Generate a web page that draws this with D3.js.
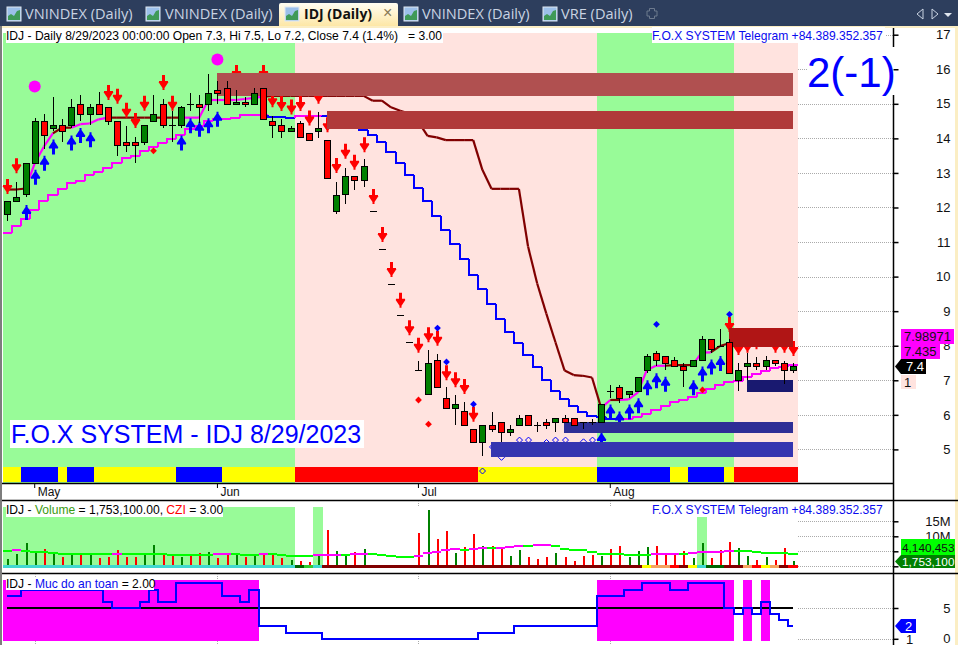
<!DOCTYPE html>
<html><head><meta charset="utf-8">
<script src="https://cdn.jsdelivr.net/npm/d3@7/dist/d3.min.js"></script>
<style>html,body{margin:0;padding:0;background:#fff}svg{display:block}text{font-family:"Liberation Sans",Arial,sans-serif}</style>
</head><body><svg id="c" width="958" height="645"></svg>
<script>
// ---------- data ----------
const opens=[11.8,12.2,12.4,13.3,14.5,14.3,14.4,14.4,15.0,14.7,15.0,14.9,14.5,13.9,13.9,13.9,14.5,15.0,14.4,14.4,15.0,15.0,15.0,15.4,15.45,15.0,15.05,15.0,15.45,14.5,14.4,14.2,14.45,14.15,14.2,13.95,11.9,12.4,12.9,12.8,11.9,10.8,9.8,8.9,8.1,7.3,6.6,7.6,6.5,6.2,6.1,5.6,5.2,5.7,5.8,5.5,5.7,6.0,5.7,5.8,5.8,5.9,5.9,5.8,5.8,5.8,6.7,6.8,6.6,6.7,7.3,7.8,7.7,7.6,7.4,7.4,7.6,8.2,8.0,8.1,7.0,7.4,7.5,7.4,7.6,7.5,7.3];
const highs=[12.2,12.75,13.3,14.6,14.7,15.2,14.55,15.15,15.25,15.0,15.35,14.9,14.5,14.35,14.05,14.4,15.25,15.15,14.8,14.95,15.3,15.25,15.85,15.65,15.65,15.4,15.2,15.45,15.45,14.65,14.55,14.35,14.5,14.15,14.75,13.95,12.75,13.15,12.9,13.4,11.9,10.8,9.8,8.9,8.1,7.55,7.87,7.75,6.8,6.57,6.37,5.6,5.7,6.08,5.8,5.7,6.0,6.0,5.8,5.87,5.9,6.0,5.9,5.8,5.87,6.3,6.86,6.86,6.7,7.1,7.76,7.86,7.7,7.66,7.5,7.6,8.28,8.2,8.48,8.2,7.5,7.8,7.66,7.7,7.6,7.55,7.5];
const lows=[11.6,12.2,12.3,13.3,13.7,14.2,13.9,14.3,14.5,14.4,14.7,14.4,13.5,13.6,13.3,13.8,14.5,14.3,13.9,14.3,14.8,14.45,14.8,15.0,15.0,15.0,14.9,15.0,14.55,14.0,14.0,14.2,14.05,13.95,14.0,12.85,11.8,12.1,12.5,12.6,11.9,10.8,9.8,8.9,8.1,7.3,6.6,6.8,6.2,5.7,5.7,5.2,4.8,5.5,5.2,5.4,5.7,5.7,5.5,5.6,5.5,5.75,5.7,5.6,5.7,5.8,6.5,6.33,6.5,6.7,7.2,7.4,7.3,7.4,6.8,7.4,7.6,7.8,8.0,7.2,6.7,7.0,7.3,7.3,7.4,6.9,7.2];
const closes=[12.2,12.3,13.3,14.5,14.1,14.4,14.2,14.9,14.7,14.9,14.7,14.5,13.8,13.8,13.8,14.4,14.7,14.4,14.4,14.9,15.0,14.9,15.3,15.3,15.0,15.05,15.0,15.3,14.55,14.4,14.2,14.3,14.05,13.95,14.3,12.85,12.35,12.9,12.8,13.2,11.9,10.8,9.8,8.9,8.1,7.3,7.5,6.8,6.2,6.3,5.7,5.2,5.7,5.6,5.5,5.6,5.9,5.7,5.7,5.7,5.9,5.8,5.7,5.8,5.8,6.3,6.7,6.5,6.7,7.1,7.7,7.6,7.5,7.4,7.3,7.6,8.2,7.9,8.0,7.2,7.3,7.5,7.4,7.6,7.5,7.3,7.4];
const lowerLine=[11.26,11.45,11.68,11.94,12.18,12.35,12.54,12.7,12.78,12.94,13.02,13.14,13.28,13.43,13.48,13.63,13.75,13.86,13.97,14.11,14.26,14.37,14.49,14.57,14.57,14.6,14.67,14.67,14.67,14.63,14.63,14.6,14.66,14.66,14.66,14.65,14.5,14.4,14.3,14.24,14.1,13.9,13.6,13.3,12.95,12.57,12.2,11.76,11.35,10.94,10.5,10.04,9.63,9.22,8.77,8.39,8.09,7.73,7.39,7.0,6.7,6.46,6.25,6.09,5.97,5.95,5.88,5.88,5.88,5.95,6.02,6.14,6.26,6.36,6.43,6.52,6.64,6.74,6.86,6.96,6.99,7.1,7.18,7.28,7.36,7.39,7.44];
const upperLine=[12.52,12.52,12.55,13.28,13.76,14.15,14.31,14.31,14.41,14.43,14.55,14.6,14.6,14.6,14.6,14.6,14.6,14.6,14.6,14.6,14.6,14.6,15.11,15.11,15.11,15.11,15.14,15.17,15.21,15.23,15.23,15.23,15.23,15.23,15.23,15.23,15.23,15.23,15.23,15.23,15.09,15.09,14.9,14.8,14.72,14.48,14.07,14.03,13.95,13.95,13.95,13.95,13.09,12.54,12.54,12.54,12.54,10.87,9.8,8.93,8.1,7.28,7.15,7.13,7.08,6.2,6.43,6.43,6.45,6.64,7.3,7.42,7.42,7.44,7.44,7.44,7.8,7.81,7.99,8.07];
const volumes=[2.4,4.1,7.7,5,5.7,4.1,3.1,3.7,4.1,3.7,2.7,3.1,5.4,3.1,3.1,3.9,7.1,4.1,3.7,3.1,3.7,4.3,4.8,2.7,4.1,4.3,3.2,3.6,4.3,3.7,2.7,2.1,1.8,1.4,3.3,12.1,5.1,4.1,4.7,5.8,0.4,0.2,0.2,0.2,0.3,11.1,18.8,9,11.8,4.3,6.4,10.8,6.8,6.8,5.8,3.4,5.4,3.1,2.4,3.1,4.4,3.1,1.8,3.4,3.8,3.4,5.8,6.8,3.1,5.1,6.4,6.8,3.8,3.8,5.1,2.8,7.8,2.8,5.4,8.1,6.1,3.4,2.1,3.1,2.1,6.1,1.75];
const volumeMA=[5.2,5.3,5.0,4.9,4.7,4.6,4.2,4.2,4.2,4.1,4.1,4.1,4.2,4.2,4.2,4.2,4.1,4.0,3.9,3.9,3.9,3.9,3.9,4.0,4.1,4.1,3.9,3.9,4.0,4.0,3.8,3.6,3.6,3.6,3.7,3.8,3.9,3.9,4.0,4.1,4.0,3.8,3.6,3.2,3.2,3.3,4.4,4.9,5.3,5.8,5.6,5.7,6.1,6.1,6.2,6.6,6.8,6.8,7.0,7.2,6.8,5.9,5.6,5.3,4.9,4.2,4.2,4.1,3.9,3.9,3.9,4.0,4.1,4.2,4.2,4.4,4.7,4.8,4.9,5.2,5.2,5.0,4.9,4.6,4.6,4.3,4.14];
const safety=[7,7,8,8,8,8,8,8,8,8,8,6,5,5,5,6,8,6,6,9,9,9,9,9,7,7,6,8,2,2,2,1,1,1,1,0,0,0,0,0,0,0,0,0,0,0,0,0,0,0,0,0,1,1,1,1,2,2,2,2,2,2,2,2,2,7,7,7,8,8,9,9,9,8,8,9,9,9,9,5,4,5,4,6,4,3,2];

const redArrowIdx=[0,1,11,12,13,14,15,17,18,25,28,29,30,31,32,33,34,35,36,37,38,39,40,41,42,43,44,45,46,47,48,49,50,51,79,80,81,82,84,85,86];
const redArrowTip=[12.39,12.99,15.11,15.0,14.6,14.3,14.8,15.4,14.8,15.69,15.69,14.9,14.79,14.69,14.79,14.37,15.0,14.18,13.0,13.41,13.09,13.6,12.1,11.0,9.99,9.1,8.3,7.8,8.1,8.0,7.0,6.8,6.6,5.8,8.4,7.73,7.8,7.9,7.8,7.8,7.7];
const blueArrowIdx=[2,3,4,5,7,8,9,19,20,21,22,23,65,66,67,68,69,70,71,72,75,76,77,78];
const blueArrowTip=[12.07,13.09,13.5,13.97,14.08,14.3,14.18,14.08,14.58,14.48,14.58,14.77,5.5,6.3,6.1,6.3,6.48,7.0,7.2,7.1,7.0,7.4,7.6,7.7];
const bigDotIdx=[3,23], bigDotVal=[15.5,16.28];
const redDiamondIdx=[16,45,46,76], redDiamondVal=[13.64,6.43,5.73,6.72];
const blueDiamondIdx=[47,48,51,71,79], blueDiamondVal=[8.51,7.53,6.31,8.62,8.91];
const hollowIdx=[53,54,56,57,59,60,61,63,64], hollowVal=[5.07,4.77,5.27,5.27,5.2,5.27,5.27,5.22,5.27];
const zoneStart=[23,35,79,81,61,53];
const zoneTop=[15.88,14.78,8.51,7.0,5.79,5.21];
const zoneBottom=[15.24,14.26,7.96,6.66,5.47,4.79];
const zoneFill=["#b05050","#b03a3a","#b01515","#191970","#2e2e96","#3535b0"];

const trendRuns=[["G",32],["P",33],["G",15],["P",7]];
const bandRuns=[["Y",2],["B",4],["Y",1],["B",3],["Y",9],["B",5],["Y",8],["R",20],["Y",13],["B",8],["Y",2],["B",4],["Y",1],["R",7]];
const safeRuns=[["M",28],["N",37],["M",15],["N",1],["M",1],["N",1],["M",1],["N",3]];
const volBgRuns=[["G",32],["N",2],["G",1],["N",41],["G",1],["N",10]];
const stripRuns=[["T",32],["DG",1],["LG",1],["T",1],["MR",35],["Y",1],["S",2],["R",1],["MR",1],["Y",1],["T",1],["DG",2],["MR",2],["S",1],["R",1],["Y",1],["S",1],["MR",1],["R",1]];
const lowerRuns=[["M",29],["B",3],["M",3],["B",33],["M",19]];
const upperRuns=[["D",3],["M",3],["D",2],["M",4],["D",8],["M",9],["D",37],["M",1],["D",1],["M",5],["D",3],["M",2],["D",2]];

const priceTicks=[5,6,7,8,9,10,11,12,13,14,15,16,17];
const monthIdx=[3,23,45,66], monthNames=["May","Jun","Jul","Aug"];
const volTicks=[0,5,10,15], volTickLabels=["","","10M","15M"];
const safeTicks=[0,5];
const tabNames=["VNINDEX (Daily)","VNINDEX (Daily)","IDJ (Daily)","VNINDEX (Daily)","VRE (Daily)"];

// ---------- helpers ----------
const pal={G:"#98fb98",P:"#ffe3df",Y:"#ffff00",B:"#0000ff",R:"#ff0000",M:"#ff00ff",D:"#800000",T:"#40d8d0",DG:"#006400",LG:"#32cd32",MR:"#800000",S:"#f4a460"};
const expand=r=>d3.merge(r.map(([k,n])=>d3.range(n).map(()=>k)));
const svg=d3.select("#c");
const n=closes.length;
const x=d3.scaleLinear().domain([0,n-1]).range([7.3,793]);
const y=d3.scaleLinear().domain([5,17]).range([449.4,34.7]);
const yv=d3.scaleLinear().domain([0,15]).range([566.3,521.3]);
const ys=d3.scaleLinear().domain([0,5]).range([638.8,608]);
const cx=i=>Math.round(x(i));
const L=d3.line().x(d=>x(d[0])).y(d=>d[1]);
const FONT='"Liberation Sans",Arial,sans-serif';
const runsRects=(g,runs,y0,y1,colorOf)=>{
  g.selectAll(null).data(expand(runs)).join("rect")
   .attr("x",(d,i)=>x(i-.5)).attr("width",(d,i)=>x(i+.5)-x(i-.5)+.3)
   .attr("y",y0).attr("height",y1-y0).attr("fill",colorOf).attr("shape-rendering","crispEdges");
};

// ---------- window chrome ----------
svg.append("rect").attr("width",958).attr("height",645).attr("fill","#fff");
svg.append("rect").attr("width",958).attr("height",26).attr("fill","#2d3e5d");
svg.append("rect").attr("y",26).attr("width",958).attr("height",2).attr("fill","#fbeec4");
svg.append("rect").attr("y",26).attr("width",2).attr("height",619).attr("fill","#7d7d7d");
svg.append("rect").attr("x",955).attr("y",26).attr("width",3).attr("height",619).attr("fill","#fbeec4");
const defs=svg.append("defs");
const gr=defs.append("linearGradient").attr("id","tabg").attr("x1",0).attr("y1",0).attr("x2",0).attr("y2",1);
gr.append("stop").attr("offset",0).attr("stop-color","#fffdf2");
gr.append("stop").attr("offset",1).attr("stop-color","#fde7a6");
svg.append("path").attr("d","M279 26V5Q279 3 281 3H396Q398 3 398 5V26Z").attr("fill","url(#tabg)");
const iconX=[7,146,285,404,543], textX=[25,165,304,422,561];
tabNames.forEach((t,i)=>{
  const g=svg.append("g").attr("transform",`translate(${iconX[i]},7)`);
  g.append("rect").attr("width",14).attr("height",14).attr("fill","#9cc0ea").attr("stroke","#dfe8f2");
  g.append("path").attr("d","M1 13V9L4 7L7 9L10 4L13 3V13Z").attr("fill","#3f9a58");
  svg.append("text").attr("x",textX[i]).attr("y",19).text(t)
    .style("font-family",'"Open Sans"').style("font-size",i==2?"14px":"14.6px")
    .style("font-weight",i==2?700:400).attr("fill",i==2?"#111":"#c9d3e2");
});
svg.append("text").attr("x",383).attr("y",18).text("×").style("font-size","16px").attr("fill","#8a7a55");
svg.append("path").attr("d","M649.5 8.5h5v2.5h2.5v5h-2.5v2.5h-5v-2.5h-2.5v-5h2.5z").attr("fill","none").attr("stroke","#6d7a8e");
svg.append("path").attr("d","M923 9L917 14L923 19Z").attr("fill","none").attr("stroke","#c9d3e2");
svg.append("path").attr("d","M932 9L938 14L932 19Z").attr("fill","none").attr("stroke","#c9d3e2");
svg.append("path").attr("d","M944 13H952L948 17Z").attr("fill","#dfe6ef");

// ---------- main pane ----------
const main=svg.append("g");
runsRects(main,trendRuns,33,483,d=>pal[d]);
const grid=(scale,ticks)=>svg.append("g").selectAll("line").data(ticks).join("line")
  .attr("x1",798).attr("x2",893).attr("y1",d=>Math.round(scale(d))+.5).attr("y2",d=>Math.round(scale(d))+.5)
  .attr("stroke","#aaa").attr("stroke-dasharray","1 1");
grid(y,priceTicks); grid(yv,volTicks); grid(ys,safeTicks);

// upper and lower trend lines
const lowerC=expand(lowerRuns), upperC=expand(upperRuns);
const lineG=svg.append("g").attr("fill","none");
lineG.selectAll(null).data(lowerLine).join("path").attr("stroke-width",2).attr("shape-rendering","crispEdges")
  .attr("d",(v,i)=>{const a=[];if(i>0)a.push([i-.5,y(lowerLine[i-1])]);a.push([i-.5,y(v)]);a.push([i+.5,y(v)]);return L(a)})
  .attr("stroke",(v,i)=>pal[lowerC[i]]);
lineG.selectAll(null).data(upperLine.slice(1)).join("path").attr("stroke-width",2.2)
  .attr("d",(v,i)=>L([[i,y(upperLine[i])],[i+1,y(v)]]))
  .attr("stroke",(v,i)=>pal[upperC[i+1]]);

// arrows and dots
const arrowDown="M-1.5 -15H1.5V-9H4.5V-8H5L1 -2V0H-1V-2L-5 -8H-4.5V-9H-1.5Z";
const arrowUp="M-1.5 15H1.5V9H4.5V8H5L1 2V0H-1V2L-5 8H-4.5V9H-1.5Z";
const mk=svg.append("g");
mk.selectAll(null).data(redArrowIdx).join("path").attr("d",arrowDown).attr("fill","#ff0000")
  .attr("transform",(d,i)=>`translate(${cx(d)+.5},${y(redArrowTip[i])})`);
mk.selectAll(null).data(blueArrowIdx).join("path").attr("d",arrowUp).attr("fill","#0000ff")
  .attr("transform",(d,i)=>`translate(${cx(d)+.5},${y(blueArrowTip[i])})`);
const diamond=r=>`M0 ${-r}L${r} 0L0 ${r}L${-r} 0Z`;
mk.selectAll(null).data(redDiamondIdx).join("path").attr("d",diamond(3.4)).attr("fill","#ff0000")
  .attr("transform",(d,i)=>`translate(${cx(d)+.5},${y(redDiamondVal[i])})`);
mk.selectAll(null).data(blueDiamondIdx).join("path").attr("d",diamond(3.4)).attr("fill","#0000ff")
  .attr("transform",(d,i)=>`translate(${cx(d)+.5},${y(blueDiamondVal[i])})`);
mk.selectAll(null).data(hollowIdx).join("path").attr("d",diamond(3)).attr("fill","none").attr("stroke","#0000ff")
  .attr("transform",(d,i)=>`translate(${cx(d)+.5},${y(hollowVal[i])})`);
mk.selectAll(null).data(bigDotIdx).join("circle").attr("r",6).attr("fill","#ff00ff")
  .attr("cx",d=>x(d)).attr("cy",(d,i)=>y(bigDotVal[i]));

// zones
svg.append("g").selectAll("rect").data(zoneStart).join("rect")
  .attr("x",d=>x(d)-.4).attr("width",d=>x(n-1)-x(d)+.4)
  .attr("y",(d,i)=>y(zoneTop[i])).attr("height",(d,i)=>y(zoneBottom[i])-y(zoneTop[i]))
  .attr("fill",(d,i)=>zoneFill[i]).attr("shape-rendering","crispEdges");

// state band
runsRects(svg.append("g"),bandRuns,467,482,d=>pal[d]);
svg.append("path").attr("d",diamond(3)).attr("fill","none").attr("stroke","#0000ff")
  .attr("transform",`translate(${cx(52)+.5},471)`);

// candles
const cg=svg.append("g").attr("shape-rendering","crispEdges");
closes.forEach((c,i)=>{
  const o=opens[i],X=cx(i)+.5;
  cg.append("line").attr("x1",X).attr("x2",X).attr("y1",Math.round(y(highs[i]))).attr("y2",Math.round(y(lows[i]))).attr("stroke","#000");
  if(o===c){
    const Y=Math.round(y(c))+.5;
    cg.append("line").attr("x1",X-3.5).attr("x2",X+3.5).attr("y1",Y).attr("y2",Y).attr("stroke","#000");
  }else{
    const t=Math.round(y(Math.max(o,c))),b=Math.round(y(Math.min(o,c)));
    cg.append("rect").attr("x",X-3).attr("width",6).attr("y",t+.5).attr("height",Math.max(b-t,1))
      .attr("fill",c>o?"#008000":"#ff0000").attr("stroke","#000");
  }
});

// labels over main pane
const label=(bx,by,bw,bh,parts,tx,ty,size)=>{
  svg.append("rect").attr("x",bx).attr("y",by).attr("width",bw).attr("height",bh).attr("fill","#fff");
  const t=svg.append("text").attr("x",tx).attr("y",ty).style("font-size",(size||12.1)+"px");
  parts.forEach(([s,col])=>t.append("tspan").text(s).attr("fill",col).attr("xml:space","preserve"));
};
label(6,28,437,15,[["IDJ - Daily 8/29/2023 00:00:00 Open 7.3, Hi 7.5, Lo 7.2, Close 7.4 (1.4%)   = 3.00","#000"]],6,40);
label(652,27,233,16,[["F.O.X SYSTEM Telegram +84.389.352.357","#0a0aee"]],652,40);
label(10,420,354,28,[["F.O.X SYSTEM - IDJ 8/29/2023","#0000ff"]],11,443,25);

// price axis
svg.append("rect").attr("x",807).attr("y",47).attr("width",91).attr("height",48).attr("fill","#fff");
svg.append("text").attr("x",807).attr("y",87).text("2(-1)").style("font-size","42px").attr("fill","#0000ff");
const axisLine=(y1,y2)=>svg.append("line").attr("x1",893.5).attr("x2",893.5).attr("y1",y1).attr("y2",y2).attr("stroke","#000").attr("stroke-width",1.5);
axisLine(28,47);axisLine(95,645);
const rightAxis=(scale,ticks,fmt)=>{
  const g=svg.append("g").attr("transform","translate(893.5,0)")
   .call(d3.axisRight(scale).tickValues(ticks).tickSize(5).tickPadding(43).tickFormat(fmt));
  g.select(".domain").remove();
  g.selectAll("line").attr("stroke","#000").attr("stroke-width",1.5);
  g.selectAll("text").attr("fill","#111").style("font-size","13px").style("font-family",FONT).attr("text-anchor","end").attr("x",57);
};
rightAxis(y,priceTicks,d3.format("d"));
rightAxis(yv,volTicks,(d,i)=>volTickLabels[i]);
rightAxis(ys,safeTicks,d3.format("d"));
svg.append("text").attr("x",906).attr("y",644).text("1").style("font-size","13px").attr("fill","#111");

// separators
[[483.5,893],[500.5,958],[573.5,958]].forEach(([Y,x2])=>svg.append("line").attr("x1",2).attr("x2",x2).attr("y1",Y).attr("y2",Y).attr("stroke","#000").attr("stroke-width",1.5));
// month axis
svg.append("g").selectAll("line").data(monthIdx).join("line").attr("x1",d=>x(d)).attr("x2",d=>x(d)).attr("y1",483).attr("y2",488).attr("stroke","#000");
svg.append("g").selectAll("text").data(monthIdx).join("text").attr("x",d=>x(d)+3).attr("y",496).text((d,i)=>monthNames[i]).style("font-size","12px").attr("fill","#111");
[[501,507],[574,580],[641,645]].forEach(([a,b])=>svg.append("g").selectAll("line").data(monthIdx).join("line")
  .attr("x1",d=>Math.round(x(d))+.5).attr("x2",d=>Math.round(x(d))+.5).attr("y1",a).attr("y2",b).attr("stroke","#aaa").attr("stroke-dasharray","1 1"));

// ---------- volume pane ----------
runsRects(svg.append("g"),volBgRuns,507,566,d=>d==="N"?"none":pal[d]);
const vb=svg.append("g").attr("shape-rendering","crispEdges");
vb.selectAll("rect").data(volumes).join("rect")
  .attr("x",(d,i)=>cx(i)).attr("width",2).attr("y",d=>yv(d)).attr("height",d=>yv(0)-yv(d))
  .attr("fill",(d,i)=>closes[i]>opens[i]?"#008000":"#ff0000");
runsRects(svg.append("g"),stripRuns,565,568,d=>pal[d]);
svg.append("g").attr("fill","none").attr("stroke-width",2).attr("shape-rendering","crispEdges").selectAll("path").data(volumeMA).join("path")
  .attr("d",(v,i)=>L([[i-.5,yv(v)],[i+.5,yv(v)]]))
  .attr("stroke",(v,i)=>i>0&&v>volumeMA[i-1]?"#ff00ff":"#00ff00");
label(6,503,217,14,[["IDJ - ","#000"],["Volume","#3a9a10"],[" = 1,753,100.00, ","#000"],["CZI","#ff0000"],[" = 3.00","#000"]],6,514);
label(652,503,232,14,[["F.O.X SYSTEM Telegram +84.389.352.357","#0a0aee"]],652,514);

// ---------- safety pane ----------
runsRects(svg.append("g"),safeRuns,580,641,d=>d==="N"?"none":pal[d]);
svg.append("line").attr("x1",7).attr("x2",793).attr("y1",ys(5)).attr("y2",ys(5)).attr("stroke","#000").attr("stroke-width",2);
svg.append("path").attr("fill","none").attr("stroke","#0000ff").attr("stroke-width",2).attr("shape-rendering","crispEdges")
  .attr("d",d3.line().curve(d3.curveStep).x((d,i)=>x(i)).y(d=>ys(d))(safety));
label(6,577,148,13,[["IDJ - ","#000"],["Muc do an toan","#0a0aee"],[" = 2.00","#000"]],6,588);

// ---------- right-hand tags ----------
const tag=(x0,y0,w,h,fill,txt,col,tx,pointed,size)=>{
  if(pointed) svg.append("path").attr("d",`M${x0} ${y0+h/2}L${x0+6} ${y0}H${x0+w}V${y0+h}H${x0+6}Z`).attr("fill",fill);
  else svg.append("rect").attr("x",x0).attr("y",y0).attr("width",w).attr("height",h).attr("fill",fill);
  svg.append("text").attr("x",tx).attr("y",y0+h/2+4.5).text(txt).style("font-size",(size||13)+"px").attr("fill",col);
};
tag(901,329,53,15,"#ff00ff","7.98971","#111",904,false);
tag(901,344,39,15,"#ff00ff","7.435","#111",904,false);
tag(895,359,31,15,"#000","7.4","#fff",906,true);
tag(901,375,15,14,"#ffe3df","1","#111",904,false);
tag(901,539,54,16,"#00ff00","4,140,453","#111",902,false,11.8);
tag(895,555,60,13,"#008000","1,753,100","#fff",902,true,11.8);
tag(895,619,21,14,"#0000ff","2","#fff",905,true);
</script></body></html>
